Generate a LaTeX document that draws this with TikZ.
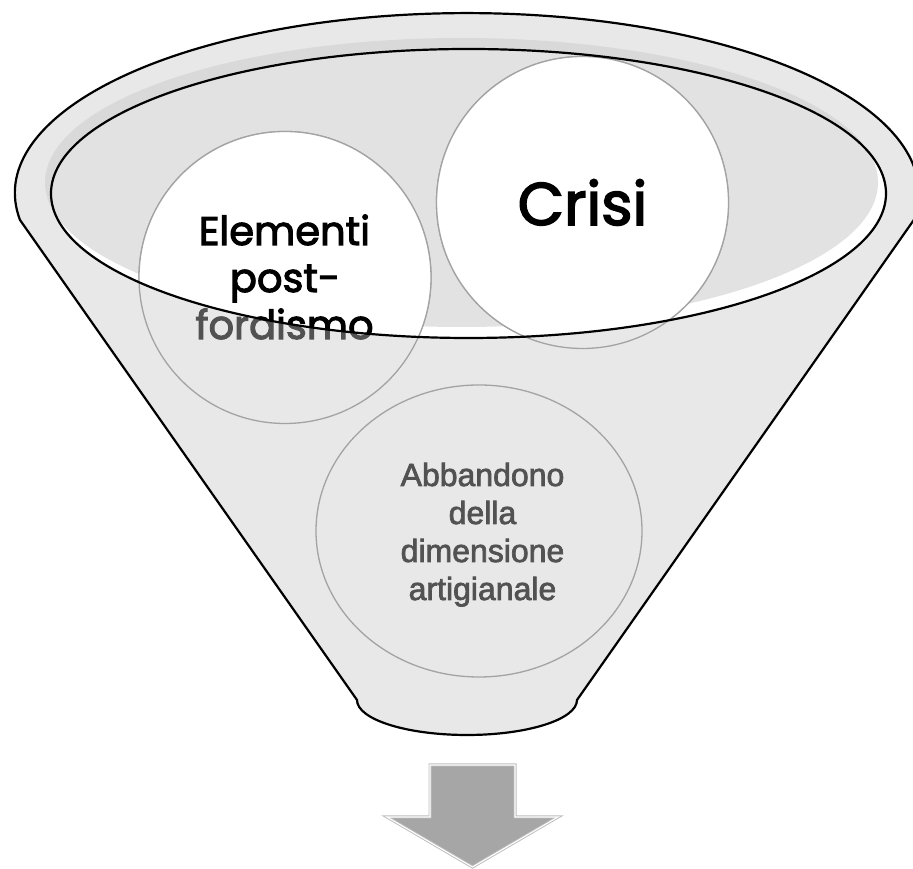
\documentclass[tikz,border=0pt]{standalone}
\usepackage{fontspec}
\newfontfamily\geofont[FakeBold=2.6]{Poppins}
\newfontfamily\arialfont[FakeBold=2.2]{Liberation Sans}
\definecolor{bodygray}{HTML}{E8E8E8}
\definecolor{rimshade}{HTML}{D9D9D9}
\definecolor{innergray}{HTML}{E2E2E2}
\definecolor{circgray}{HTML}{A3A3A3}
\definecolor{dimtext}{HTML}{525252}
\definecolor{arrowfill}{HTML}{A6A6A6}
\definecolor{arrowedge}{HTML}{BDBDBD}
\tikzset{
  elemtxt/.style={font=\geofont\fontsize{40}{48}\selectfont, anchor=base, inner sep=0pt},
  crisitxt/.style={font=\geofont\fontsize{60}{70}\selectfont, anchor=base, inner sep=0pt},
  abbtxt/.style={font=\arialfont\fontsize{32}{38}\selectfont, anchor=base, inner sep=0pt, text=dimtext},
  circline/.style={draw=circgray, line width=1.3pt},
  funline/.style={draw=black, line width=2.2pt, line join=round},
}
\newcommand{\toptexts}[2]{%
  \node[elemtxt, text=#1] (ela#2) at (284.5,624) {Elementi};
  \node[elemtxt, text=#1] (elb#2) at (285,577) {post-};
  \node[elemtxt, text=#1] (elc#2) at (284.5,530) {fordismo};
  \node[crisitxt, text=#1] (cr#2) at (582.5,644) {Crisi};
}
\newcommand{\innerellipse}{(468.5,675.5) ellipse[x radius=417.5pt, y radius=144.5pt]}
\newcommand{\shiftellipse}{(461.5,686.5) ellipse[x radius=416.5pt, y radius=144.5pt]}
\newcommand{\funnelpath}{(20,649) arc[start angle=188.6, end angle=-8.6, x radius=452pt, y radius=180pt]
  -- (577,169) arc[start angle=0, end angle=-180, x radius=110pt, y radius=35pt] -- cycle}
\begin{document}
\begin{tikzpicture}[x=1pt,y=1pt]
\useasboundingbox (0,0) rectangle (913,869);
% funnel body
\fill[bodygray] \funnelpath;
% rim shading and opening
\fill[rimshade] \shiftellipse;
\fill[white] \innerellipse;
\begin{scope}
  \clip \innerellipse;
  \fill[innergray] \shiftellipse;
\end{scope}
% circles seen through the funnel
\draw[circline] (285,591.5) circle[radius=146pt];
\draw[circline] (582.5,666.5) circle[radius=146pt];
\toptexts{dimtext}{b}
% circles inside the opening
\begin{scope}
  \clip \innerellipse;
  \fill[white] (285,591.5) circle[radius=146pt];
  \fill[white] (582.5,666.5) circle[radius=146pt];
  \draw[circline] (285,591.5) circle[radius=146pt];
  \draw[circline] (582.5,666.5) circle[radius=146pt];
  \toptexts{black}{f}
\end{scope}
% lower circle
\draw[circline] (479,338) ellipse[x radius=163pt, y radius=146pt];
\node[abbtxt] (ab1) at (482.5,383) {Abbandono};
\node[abbtxt] (ab2) at (482.5,345) {della};
\node[abbtxt] (ab3) at (482.5,307) {dimensione};
\node[abbtxt] (ab4) at (482.5,269) {artigianale};
% outlines
\draw[funline] \innerellipse;
\draw[funline] \funnelpath;
% arrow
\path[fill=arrowfill, draw=arrowedge, line width=3pt, line join=miter]
  (430,104) -- (515,104) -- (515,52) -- (558,52) -- (472.5,2) -- (387,52) -- (430,52) -- cycle;
\draw[white, line width=1.1pt, line join=miter]
  (430,104) -- (515,104) -- (515,52) -- (558,52) -- (472.5,2) -- (387,52) -- (430,52) -- cycle;
\end{tikzpicture}
\end{document}
